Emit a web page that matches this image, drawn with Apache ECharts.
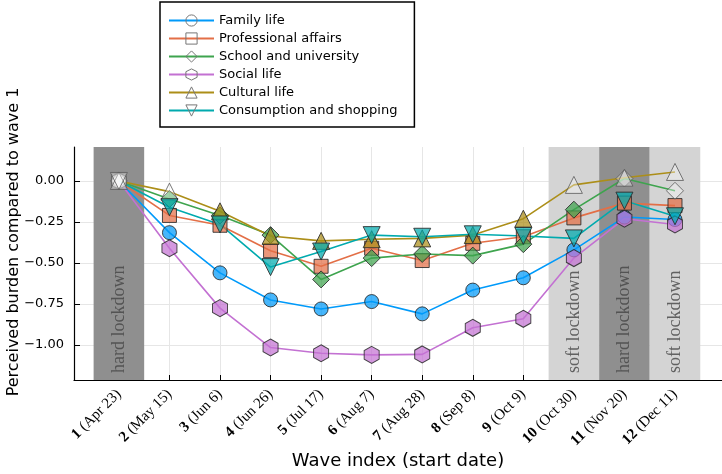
<!DOCTYPE html>
<html>
<head>
<meta charset="utf-8">
<script src="https://cdn.jsdelivr.net/npm/echarts@6/dist/echarts.min.js"></script>
<style>
  html, body { margin: 0; padding: 0; background: #fff; }
  #chart { width: 722px; height: 474px; }
</style>
</head>
<body>
<div id="chart"></div>
<script>
const waves = [1, 2, 3, 4, 5, 6, 7, 8, 9, 10, 11, 12];
const startDates = ["Apr 23", "May 15", "Jun 6", "Jun 26", "Jul 17", "Aug 7", "Aug 28", "Sep 8", "Oct 9", "Oct 30", "Nov 20", "Dec 11"];
const yTicks = [-1, -0.75, -0.5, -0.25, 0];

const familyLife = [0, -0.315, -0.56, -0.725, -0.78, -0.735, -0.81, -0.665, -0.59, -0.42, -0.22, -0.235];
const professional = [0, -0.21, -0.27, -0.425, -0.52, -0.41, -0.485, -0.38, -0.34, -0.225, -0.135, -0.15];
const school = [0, -0.11, -0.21, -0.33, -0.6, -0.47, -0.445, -0.455, -0.385, -0.175, 0.015, -0.06];
const socialLife = [0, -0.41, -0.775, -1.015, -1.05, -1.06, -1.057, -0.895, -0.84, -0.47, -0.23, -0.265];
const culturalLife = [0, -0.065, -0.185, -0.335, -0.365, -0.355, -0.35, -0.33, -0.23, -0.024, 0.02, 0.055];
const consumption = [0, -0.16, -0.265, -0.525, -0.43, -0.33, -0.34, -0.325, -0.335, -0.35, -0.12, -0.215];

// 1 = drawn hollow (not different from wave 1)
const hollowDefault = [1, 0, 0, 0, 0, 0, 0, 0, 0, 0, 0, 0];
const hollowSchool = [1, 0, 0, 0, 0, 0, 0, 0, 0, 0, 1, 1];
const hollowCultural = [1, 1, 0, 0, 0, 0, 0, 0, 0, 1, 1, 1];

const lockdowns = [
  { wave: 1, name: "hard lockdown", kind: "hard" },
  { wave: 10, name: "soft lockdown", kind: "soft" },
  { wave: 11, name: "hard lockdown", kind: "hard" },
  { wave: 12, name: "soft lockdown", kind: "soft" },
];

const hexagon = "path://M0,-1 L0.866,-0.5 L0.866,0.5 L0,1 L-0.866,0.5 L-0.866,-0.5 Z";

function fade(hex, a) {
  const n = parseInt(hex.slice(1), 16);
  return `rgba(${(n >> 16) & 255}, ${(n >> 8) & 255}, ${n & 255}, ${a})`;
}

function makeSeries(name, values, hollow, color, symbol, size, rotate) {
  return {
    name,
    type: "line",
    symbol,
    symbolSize: size,
    symbolRotate: rotate || 0,
    z: 3,
    lineStyle: { color, width: 1.6 },
    itemStyle: { color: fade(color, 0.72), borderColor: "rgba(40,40,40,0.85)", borderWidth: 1 },
    data: values.map((v, i) => {
      const item = { value: [waves[i], v] };
      if (hollow[i]) {
        item.itemStyle = { color: "rgba(255,255,255,0.35)", borderColor: "rgba(90,90,90,0.8)" };
      }
      return item;
    }),
  };
}

const myChart = echarts.init(document.getElementById("chart"));

const series = [
  makeSeries("Family life", familyLife, hollowDefault, "#009AFA", "circle", 14),
  makeSeries("Professional affairs", professional, hollowDefault, "#E36F47", "rect", 14),
  makeSeries("School and university", school, hollowSchool, "#3EA44E", "diamond", [17, 17]),
  makeSeries("Social life", socialLife, hollowDefault, "#C371D2", hexagon, [15, 17]),
  makeSeries("Cultural life", culturalLife, hollowCultural, "#AC8E18", "triangle", [17, 17]),
  makeSeries("Consumption and shopping", consumption, hollowDefault, "#00AAAE", "triangle", [17, 17], 180),
];

// shaded lockdown periods + their vertical labels
series.push({
  name: "lockdowns",
  type: "scatter",
  symbolSize: 0,
  z: 1,
  silent: true,
  data: lockdowns.map(d => ({ value: [d.wave, -1.17], name: d.name })),
  label: {
    show: true,
    formatter: p => p.name,
    position: "inside",
    rotate: 90,
    align: "left",
    verticalAlign: "middle",
    fontFamily: "Liberation Serif",
    fontSize: 18,
    color: "#444",
  },
  markArea: {
    silent: true,
    data: lockdowns.map(d => [
      { xAxis: d.wave - 0.5, itemStyle: { color: d.kind === "hard" ? "#8f8f8f" : "#d4d4d4" } },
      { xAxis: d.wave + 0.5 },
    ]),
  },
});

myChart.setOption({
  animation: false,
  backgroundColor: "#fff",
  grid: { left: 74, right: 0, top: 147, bottom: 94 },
  legend: {
    orient: "vertical",
    left: 160,
    top: 2,
    padding: [12, 17, 10, 8],
    itemWidth: 45,
    itemHeight: 14,
    itemGap: 5,
    borderColor: "#000",
    borderWidth: 1.5,
    backgroundColor: "#fff",
    data: series.slice(0, 6).map(s => s.name),
    itemStyle: { color: "rgba(255,255,255,0)", borderColor: "#777", borderWidth: 1 },
    textStyle: { fontFamily: "DejaVu Sans", fontSize: 13, color: "#000" },
  },
  xAxis: {
    type: "value",
    min: 0.112,
    max: 12.93,
    name: "Wave index (start date)",
    nameLocation: "middle",
    nameGap: 72,
    nameTextStyle: { fontFamily: "DejaVu Sans", fontSize: 18, color: "#000" },
    axisLine: { onZero: false, lineStyle: { color: "#000", width: 1.2 } },
    axisTick: { inside: true, length: 5, customValues: waves, lineStyle: { color: "#000" } },
    splitLine: { show: true, lineStyle: { color: "#e6e6e6", width: 1 } },
    axisLabel: {
      customValues: waves,
      rotate: 45,
      margin: 12,
      fontFamily: "Liberation Serif",
      fontSize: 15,
      color: "#000",
      formatter: v => `{b|${v}} (${startDates[v - 1]})`,
      rich: { b: { fontWeight: "bold", fontFamily: "Liberation Serif", fontSize: 15 } },
    },
  },
  yAxis: {
    type: "value",
    min: -1.213,
    max: 0.207,
    axisLine: { show: true, onZero: false, lineStyle: { color: "#000", width: 1.2 } },
    axisTick: { show: true, inside: true, length: 6, customValues: yTicks, lineStyle: { color: "#000" } },
    splitLine: { show: true, lineStyle: { color: "#e6e6e6", width: 1 } },
    axisLabel: {
      customValues: yTicks,
      margin: 10,
      fontFamily: "DejaVu Sans",
      fontSize: 13,
      color: "#000",
      formatter: v => v.toFixed(2).replace("-", "\u2212"),
    },
  },
  graphic: [
    {
      type: "text",
      x: 14,
      y: 242,
      rotation: Math.PI / 2,
      style: {
        text: "Perceived burden compared to wave 1",
        fontFamily: "DejaVu Sans",
        fontSize: 16,
        fill: "#000",
        align: "center",
        verticalAlign: "middle",
      },
    },
  ],
  series,
});
</script>
</body>
</html>
